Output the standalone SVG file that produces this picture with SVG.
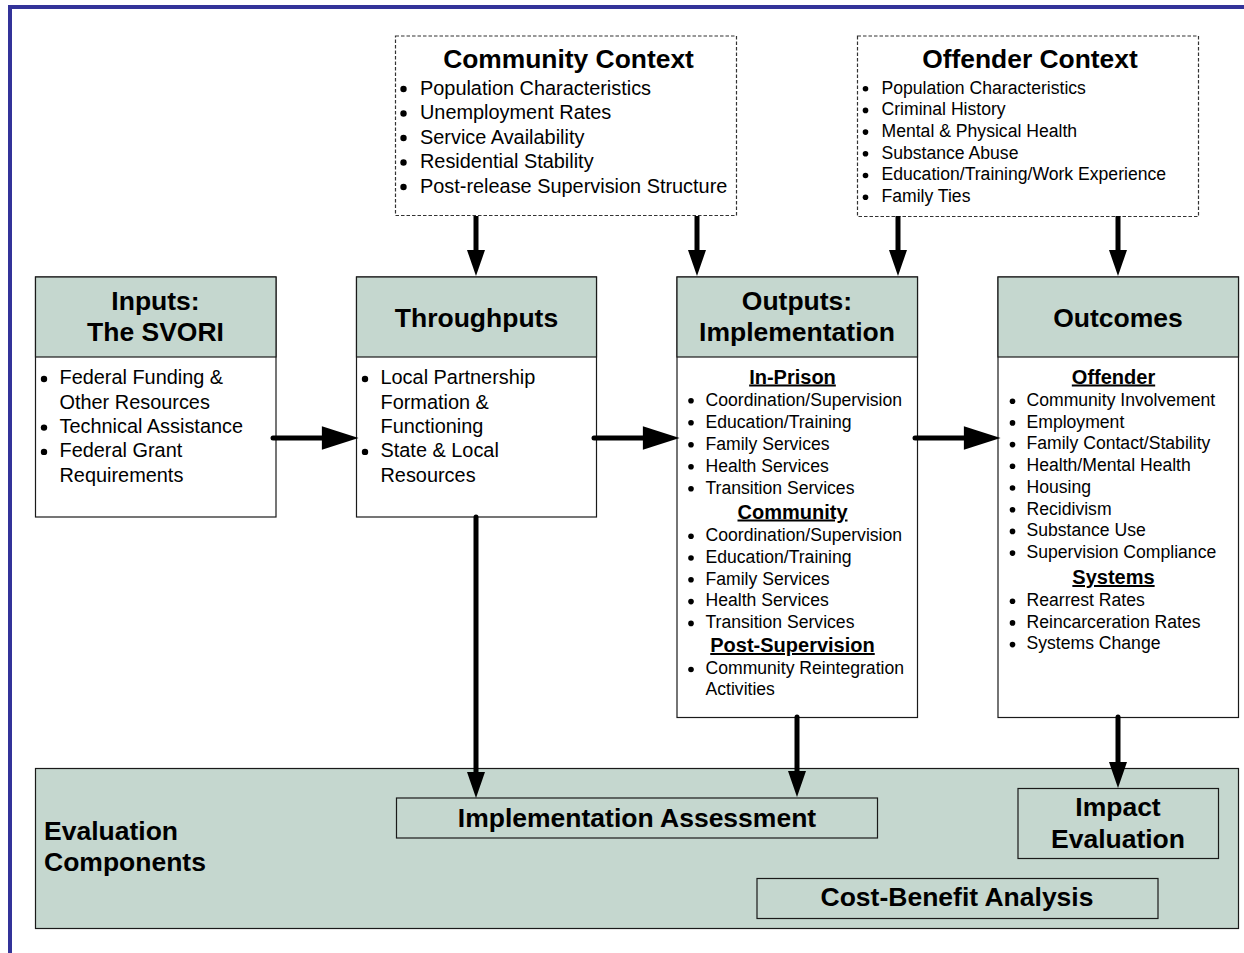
<svg xmlns="http://www.w3.org/2000/svg" width="1244" height="953" viewBox="0 0 1244 953">
<style>
text{font-family:"Liberation Sans",Arial,sans-serif;fill:#000}
.t{font-weight:bold;font-size:26.5px;text-anchor:middle}
.ct{font-weight:bold;font-size:26.4px;text-anchor:middle}
.i20{font-size:19.9px}
.i17{font-size:17.6px}
.sub{font-weight:bold;font-size:20px;text-anchor:middle;text-decoration:underline}
.box{fill:#fff;stroke:#1a1a1a;stroke-width:1.2}
.hdr{fill:#c5d7cf;stroke:#1a1a1a;stroke-width:1.2}
.ctx{fill:#fff;stroke:#333;stroke-width:1.2;stroke-dasharray:3.5 2}
.b{fill:#000}
.arr{stroke:#000;stroke-width:5;fill:none;stroke-linecap:round}
</style>
<defs>
<marker id="ah" markerUnits="userSpaceOnUse" orient="auto" refX="0" refY="0" markerWidth="40" markerHeight="30" viewBox="-2 -12 36 24" overflow="visible"><path d="M-1,-10.5 L32,0 L-1,10.5 z" fill="#000"/></marker>
<marker id="av" markerUnits="userSpaceOnUse" orient="auto" refX="0" refY="0" markerWidth="30" markerHeight="24" viewBox="-2 -10 30 20" overflow="visible"><path d="M-1,-9 L25,0 L-1,9 z" fill="#000"/></marker>
</defs>
<rect width="1244" height="953" fill="#fff"/>
<g id="frame"><path d="M10,953 L10,7 L1244,7" fill="none" stroke="#333399" stroke-width="4"/></g>

<g id="community-context">
<rect class="ctx" x="395.5" y="36" width="341" height="179.5"/>
<text class="ct" x="568.5" y="67.5">Community Context</text>
<g class="i20">
<circle class="b" cx="403.5" cy="89" r="3.2"/><text x="420" y="94.5">Population Characteristics</text>
<circle class="b" cx="403.5" cy="113.5" r="3.2"/><text x="420" y="119">Unemployment Rates</text>
<circle class="b" cx="403.5" cy="138" r="3.2"/><text x="420" y="143.5">Service Availability</text>
<circle class="b" cx="403.5" cy="162.5" r="3.2"/><text x="420" y="168">Residential Stability</text>
<circle class="b" cx="403.5" cy="187" r="3.2"/><text x="420" y="192.5">Post-release Supervision Structure</text>
</g>
</g>

<g id="offender-context">
<rect class="ctx" x="857.5" y="36" width="341" height="180.5"/>
<text class="ct" x="1030" y="68">Offender Context</text>
<g class="i17">
<circle class="b" cx="865.5" cy="88.7" r="2.8"/><text x="881.5" y="93.5">Population Characteristics</text>
<circle class="b" cx="865.5" cy="110.4" r="2.8"/><text x="881.5" y="115.2">Criminal History</text>
<circle class="b" cx="865.5" cy="132.1" r="2.8"/><text x="881.5" y="136.9">Mental &amp; Physical Health</text>
<circle class="b" cx="865.5" cy="153.8" r="2.8"/><text x="881.5" y="158.6">Substance Abuse</text>
<circle class="b" cx="865.5" cy="175.5" r="2.8"/><text x="881.5" y="180.3">Education/Training/Work Experience</text>
<circle class="b" cx="865.5" cy="197.2" r="2.8"/><text x="881.5" y="202">Family Ties</text>
</g>
</g>

<g id="inputs">
<rect class="box" x="35.5" y="277" width="240.5" height="240"/>
<rect class="hdr" x="35.5" y="277" width="240.5" height="80"/>
<text class="t" x="155.5" y="310">Inputs:</text>
<text class="t" x="155.5" y="341">The SVORI</text>
<g class="i20">
<circle class="b" cx="44" cy="379" r="3.2"/><text x="59.5" y="384.3">Federal Funding &amp;</text>
<text x="59.5" y="408.6">Other Resources</text>
<circle class="b" cx="44" cy="427.6" r="3.2"/><text x="59.5" y="432.9">Technical Assistance</text>
<circle class="b" cx="44" cy="451.9" r="3.2"/><text x="59.5" y="457.2">Federal Grant</text>
<text x="59.5" y="481.5">Requirements</text>
</g>
</g>

<g id="throughputs">
<rect class="box" x="356.5" y="277" width="240" height="240"/>
<rect class="hdr" x="356.5" y="277" width="240" height="80"/>
<text class="t" x="476.5" y="326.5">Throughputs</text>
<g class="i20">
<circle class="b" cx="365" cy="379" r="3.2"/><text x="380.5" y="384.3">Local Partnership</text>
<text x="380.5" y="408.6">Formation &amp;</text>
<text x="380.5" y="432.9">Functioning</text>
<circle class="b" cx="365" cy="451.9" r="3.2"/><text x="380.5" y="457.2">State &amp; Local</text>
<text x="380.5" y="481.5">Resources</text>
</g>
</g>

<g id="outputs">
<rect class="box" x="677" y="277" width="240.5" height="440.5"/>
<rect class="hdr" x="677" y="277" width="240.5" height="80"/>
<text class="t" x="797" y="310">Outputs:</text>
<text class="t" x="797" y="341">Implementation</text>
<text class="sub" x="792.5" y="383.5">In-Prison</text>
<g class="i17">
<circle class="b" cx="691" cy="400.7" r="2.8"/><text x="705.5" y="405.5">Coordination/Supervision</text>
<circle class="b" cx="691" cy="422.7" r="2.8"/><text x="705.5" y="427.5">Education/Training</text>
<circle class="b" cx="691" cy="444.7" r="2.8"/><text x="705.5" y="449.5">Family Services</text>
<circle class="b" cx="691" cy="466.7" r="2.8"/><text x="705.5" y="471.5">Health Services</text>
<circle class="b" cx="691" cy="488.7" r="2.8"/><text x="705.5" y="493.5">Transition Services</text>
</g>
<text class="sub" x="792.5" y="518.5">Community</text>
<g class="i17">
<circle class="b" cx="691" cy="536.2" r="2.8"/><text x="705.5" y="541">Coordination/Supervision</text>
<circle class="b" cx="691" cy="558" r="2.8"/><text x="705.5" y="562.8">Education/Training</text>
<circle class="b" cx="691" cy="579.8" r="2.8"/><text x="705.5" y="584.6">Family Services</text>
<circle class="b" cx="691" cy="601.6" r="2.8"/><text x="705.5" y="606.4">Health Services</text>
<circle class="b" cx="691" cy="623.4" r="2.8"/><text x="705.5" y="628.2">Transition Services</text>
</g>
<text class="sub" x="792.5" y="652">Post-Supervision</text>
<g class="i17">
<circle class="b" cx="691" cy="669.5" r="2.8"/><text x="705.5" y="674.3">Community Reintegration</text>
<text x="705.5" y="695">Activities</text>
</g>
</g>

<g id="outcomes">
<rect class="box" x="998" y="277" width="240.5" height="440.5"/>
<rect class="hdr" x="998" y="277" width="240.5" height="80"/>
<text class="t" x="1118" y="326.5">Outcomes</text>
<text class="sub" x="1113.5" y="383.5">Offender</text>
<g class="i17">
<circle class="b" cx="1012.5" cy="401.2" r="2.8"/><text x="1026.5" y="406">Community Involvement</text>
<circle class="b" cx="1012.5" cy="422.9" r="2.8"/><text x="1026.5" y="427.7">Employment</text>
<circle class="b" cx="1012.5" cy="444.6" r="2.8"/><text x="1026.5" y="449.4">Family Contact/Stability</text>
<circle class="b" cx="1012.5" cy="466.3" r="2.8"/><text x="1026.5" y="471.1">Health/Mental Health</text>
<circle class="b" cx="1012.5" cy="488" r="2.8"/><text x="1026.5" y="492.8">Housing</text>
<circle class="b" cx="1012.5" cy="509.7" r="2.8"/><text x="1026.5" y="514.5">Recidivism</text>
<circle class="b" cx="1012.5" cy="531.4" r="2.8"/><text x="1026.5" y="536.2">Substance Use</text>
<circle class="b" cx="1012.5" cy="553.1" r="2.8"/><text x="1026.5" y="557.9">Supervision Compliance</text>
</g>
<text class="sub" x="1113.5" y="584">Systems</text>
<g class="i17">
<circle class="b" cx="1012.5" cy="601.2" r="2.8"/><text x="1026.5" y="606">Rearrest Rates</text>
<circle class="b" cx="1012.5" cy="622.9" r="2.8"/><text x="1026.5" y="627.7">Reincarceration Rates</text>
<circle class="b" cx="1012.5" cy="644.6" r="2.8"/><text x="1026.5" y="649.4">Systems Change</text>
</g>
</g>

<g id="evaluation-components">
<rect class="hdr" x="35.5" y="768.5" width="1203" height="160"/>
<text x="44" y="840" style="font-weight:bold;font-size:26.5px">Evaluation</text>
<text x="44" y="871" style="font-weight:bold;font-size:26.5px">Components</text>
</g>
<g id="implementation-assessment">
<rect class="hdr" x="396.5" y="798" width="481" height="40"/>
<text class="t" x="637" y="826.5">Implementation Assessment</text>
</g>
<g id="impact-evaluation">
<rect class="hdr" x="1018" y="788.5" width="200.5" height="70"/>
<text class="t" x="1118" y="815.5">Impact</text>
<text class="t" x="1118" y="847.5">Evaluation</text>
</g>
<g id="cost-benefit-analysis">
<rect class="hdr" x="757" y="878.5" width="401" height="40"/>
<text class="t" x="957" y="905.5">Cost-Benefit Analysis</text>
</g>

<g id="connectors">
<path class="arr" d="M273,438 L323,438" marker-end="url(#ah)"/>
<path class="arr" d="M594,438 L644,438" marker-end="url(#ah)"/>
<path class="arr" d="M915,438 L965,438" marker-end="url(#ah)"/>
<path class="arr" style="stroke-linecap:butt" d="M476,216 L476,251" marker-end="url(#av)"/>
<path class="arr" style="stroke-linecap:butt" d="M697,216 L697,251" marker-end="url(#av)"/>
<path class="arr" style="stroke-linecap:butt" d="M898,216 L898,251" marker-end="url(#av)"/>
<path class="arr" style="stroke-linecap:butt" d="M1118,216 L1118,251" marker-end="url(#av)"/>
<path class="arr" d="M476,517 L476,773" marker-end="url(#av)"/>
<path class="arr" d="M797,717 L797,772" marker-end="url(#av)"/>
<path class="arr" d="M1118,717 L1118,763" marker-end="url(#av)"/>
</g>
</svg>
